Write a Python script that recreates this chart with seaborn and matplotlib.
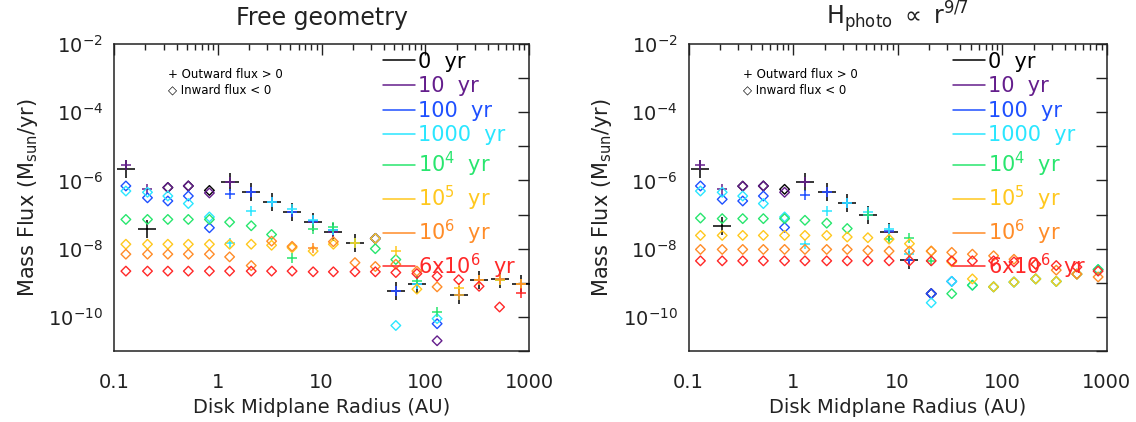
import numpy as np
import pandas as pd
import matplotlib
matplotlib.use("Agg")
import matplotlib.pyplot as plt
from matplotlib.lines import Line2D
from matplotlib.ticker import FixedLocator, FuncFormatter, LogLocator, NullFormatter
import seaborn as sns

nan = np.nan

# --------------------------------
# DATA (signed flux, >0 outward, <0 inward)
# --------------------------------

radius = [0.13, 0.21, 0.33, 0.52, 0.83, 1.3, 2.1, 3.3, 5.2, 8.3,
          13, 21, 33, 52, 83, 130, 210, 330, 520, 830]

ages = ["0  yr", "10  yr", "100  yr", "1000  yr",
        "10$^4$  yr", "10$^5$  yr", "10$^6$  yr", "6x10$^6$  yr"]

colors = ["#000000", "#641e8c", "#1e50ff", "#2ae6ff",
          "#28e66e", "#ffc81e", "#ff8c28", "#ff2828"]

free_0 = [2.2e-6, 3.7e-8, -6.2e-7, -6.9e-7, -5.1e-7, 9.1e-7, 4.6e-7, 2.3e-7, 1.2e-7, 5.9e-8,
          3.0e-8, 1.5e-8, -2.0e-8, 5.8e-10, 9.5e-10, nan, 4.3e-10, 1.2e-9, 1.25e-9, 9.5e-10]
free_10 = [2.75e-6, 5.8e-7, -6.2e-7, -6.9e-7, -4.3e-7, 9.1e-7, 4.6e-7, 2.3e-7, 1.2e-7, 5.9e-8,
           3.0e-8, 1.5e-8, -2.0e-8, 5.8e-10, 9.5e-10, -2.0e-11, 4.3e-10, 1.2e-9, 1.25e-9, 9.5e-10]
free_100 = [-6.9e-7, -3.1e-7, -2.5e-7, -3.5e-7, -4.1e-8, 4.0e-7, 4.6e-7, 2.3e-7, 1.2e-7, 6.5e-8,
            3.5e-8, 1.5e-8, -2.0e-8, 5.8e-10, 9.5e-10, -6.3e-11, 4.3e-10, 1.2e-9, 1.25e-9, 9.5e-10]
free_1000 = [-4.9e-7, -4.5e-7, -3.5e-7, -2.1e-7, -8.5e-8, 1.5e-8, 1.3e-7, 2.3e-7, 1.5e-7, 6.8e-8,
             3.5e-8, 1.5e-8, nan, -5.6e-11, 9.5e-10, -8.9e-11, 4.5e-10, 1.2e-9, 1.25e-9, 9.5e-10]
free_1e4 = [-7.2e-8, -7.2e-8, -7.2e-8, -7.2e-8, -7.2e-8, -6.0e-8, -4.7e-8, -2.6e-8, 5.3e-9, 3.7e-8,
            4.4e-8, 1.5e-8, -1.0e-8, -4.8e-9, 1.1e-9, 1.4e-10, 4.5e-10, 1.2e-9, 1.2e-9, 9.5e-10]
free_1e5 = [-1.35e-8, -1.35e-8, -1.35e-8, -1.35e-8, -1.35e-8, -1.35e-8, -1.35e-8, -1.26e-8, -1.07e-8, -8.5e-9,
            -1.35e-8, 1.5e-8, -2.0e-8, 8.5e-9, -6.5e-10, nan, 7.2e-10, 1.2e-9, 1.2e-9, 9.5e-10]
free_1e6 = [-6.9e-9, -6.9e-9, -6.9e-9, -6.9e-9, -6.9e-9, -5.75e-9, -3.2e-9, -1.66e-8, -1.17e-8, 1.05e-8,
            -1.6e-8, -3.9e-9, -3.0e-9, -3.5e-9, -2.2e-9, -7.6e-10, 4.3e-10, 1.2e-9, 1.25e-9, 9.5e-10]
free_6e6 = [-2.2e-9, -2.2e-9, -2.2e-9, -2.2e-9, -2.2e-9, -2.2e-9, -2.2e-9, -2.2e-9, -2.2e-9, -2.1e-9,
            -2.1e-9, -2.1e-9, -2.1e-9, -2.0e-9, -1.86e-9, -1.55e-9, -1.23e-9, -7.9e-10, -1.95e-10, 5.0e-10]

photo_0 = [2.2e-6, 4.6e-8, -6.8e-7, -6.9e-7, -5.5e-7, 9.1e-7, 4.6e-7, 2.2e-7, 9.5e-8, 3.0e-8,
           4.6e-9, -4.8e-10, nan, nan, nan, nan, nan, nan, nan, nan]
photo_10 = [2.8e-6, 5.5e-7, -6.8e-7, -6.9e-7, -4.5e-7, 9.1e-7, 4.6e-7, 2.2e-7, 9.5e-8, 3.0e-8,
            4.6e-9, -4.8e-10, nan, nan, nan, nan, nan, nan, nan, nan]
photo_100 = [-6.9e-7, -2.8e-7, -2.5e-7, -3.5e-7, -4.2e-8, 3.7e-7, 4.6e-7, 2.2e-7, 1.0e-7, 3.2e-8,
             4.6e-9, -4.8e-10, -1.1e-9, nan, nan, nan, nan, nan, nan, nan]
photo_1000 = [-4.9e-7, -4.5e-7, -3.5e-7, -2.1e-7, -8.5e-8, 1.35e-8, 1.3e-7, 2.2e-7, 1.2e-7, 3.7e-8,
              6.8e-9, -2.6e-10, -1.1e-9, -8.5e-10, -7.6e-10, -1.05e-9, -1.3e-9, -1.1e-9, -1.8e-9, -2.45e-9]
photo_1e4 = [-7.9e-8, -7.6e-8, -7.6e-8, -7.6e-8, -7.6e-8, -6.8e-8, -5.6e-8, -3.9e-8, 1.0e-7, 1.9e-8,
             2.0e-8, 4.4e-9, -4.8e-10, -8.5e-10, -7.6e-10, -1.05e-9, -1.3e-9, -1.1e-9, -1.8e-9, -2.45e-9]
photo_1e5 = [-2.45e-8, -2.45e-8, -2.45e-8, -2.45e-8, -2.45e-8, -2.45e-8, -2.45e-8, -2.2e-8, -2.1e-8, -1.9e-8,
             -1.4e-8, -8.5e-9, -4.1e-9, -1.3e-9, -7.6e-10, -1.05e-9, -1.3e-9, -1.1e-9, -1.8e-9, nan]
photo_1e6 = [-9.5e-9, -9.5e-9, -9.5e-9, -9.5e-9, -9.5e-9, -9.5e-9, -9.5e-9, -9.5e-9, -8.9e-9, -8.5e-9,
             -8.5e-9, -8.5e-9, -7.8e-9, -6.9e-9, -6.2e-9, -4.9e-9, -3.5e-9, -2.35e-9, -1.8e-9, -1.48e-9]
photo_6e6 = [-4.4e-9, -4.4e-9, -4.4e-9, -4.4e-9, -4.4e-9, -4.4e-9, -4.4e-9, -4.4e-9, -4.4e-9, -4.4e-9,
             -4.4e-9, -4.4e-9, -4.4e-9, -4.4e-9, -4.4e-9, -4.1e-9, -3.5e-9, -3.2e-9, -2.9e-9, -2.2e-9]

panels = {
    "free": [free_0, free_10, free_100, free_1000, free_1e4, free_1e5, free_1e6, free_6e6],
    "photo": [photo_0, photo_10, photo_100, photo_1000, photo_1e4, photo_1e5, photo_1e6, photo_6e6],
}

titles = {
    "free": "Free geometry",
    "photo": r"H$_{\rm photo}$ $\propto$ r$^{9/7}$",
}

# --------------------------------
# LONG TABLE
# --------------------------------

rows = []
for panel, series in panels.items():
    for age, values in zip(ages, series):
        for r, f in zip(radius, values):
            if np.isnan(f):
                continue
            rows.append({
                "panel": panel,
                "age": age,
                "radius": r,
                "flux": abs(f),
                "direction": "out" if f > 0 else "in",
            })
df = pd.DataFrame(rows)

# --------------------------------
# PLOT
# --------------------------------

sns.set_style("white")
plt.rcParams["font.family"] = ["DejaVu Sans"]

fig = plt.figure(figsize=(11.36, 4.22), dpi=100)
ax_left = fig.add_axes([0.1004, 0.1682, 0.3653, 0.7275])
ax_right = fig.add_axes([0.6061, 0.1682, 0.3680, 0.7275])

legend_x = {"free": 0.648, "photo": 0.632}

for ax, panel in [(ax_left, "free"), (ax_right, "photo")]:
    sub = df[df["panel"] == panel]

    for age, color in zip(ages, colors):
        d = sub[sub["age"] == age]
        out = d[d["direction"] == "out"]
        inw = d[d["direction"] == "in"]
        plus_size = 170 if age == ages[0] else 60
        sns.scatterplot(
            data=out, x="radius", y="flux", ax=ax,
            marker="+", color=color, s=plus_size, linewidth=1.1,
            legend=False, zorder=3
        )
        sns.scatterplot(
            data=inw, x="radius", y="flux", ax=ax,
            marker="D", facecolor="none", edgecolor=color, s=24,
            linewidth=1.0, legend=False, zorder=3
        )

    ax.set_xscale("log")
    ax.set_yscale("log")
    ax.set_xlim(0.1, 1000)
    ax.set_ylim(1e-11, 1e-2)

    ax.yaxis.set_major_locator(FixedLocator([10.0 ** e for e in range(-11, -1)]))
    ax.yaxis.set_major_formatter(FuncFormatter(
        lambda v, p: "" if round(np.log10(v)) % 2 else r"$10^{%d}$" % round(np.log10(v))
    ))
    ax.yaxis.set_minor_formatter(NullFormatter())
    ax.yaxis.set_minor_locator(FixedLocator([]))

    ax.xaxis.set_major_locator(FixedLocator([0.1, 1, 10, 100, 1000]))
    ax.xaxis.set_major_formatter(FuncFormatter(lambda v, p: "%g" % v))
    ax.xaxis.set_minor_locator(LogLocator(base=10, subs=np.arange(2, 10)))
    ax.xaxis.set_minor_formatter(NullFormatter())

    ax.tick_params(which="both", direction="in", top=True, right=True,
                   labelsize=14, colors="#222222")
    ax.tick_params(axis="x", which="both", pad=16)
    ax.tick_params(axis="y", which="both", pad=8)
    ax.tick_params(which="major", length=8, width=1)
    ax.tick_params(which="minor", length=4, width=1)

    for spine in ax.spines.values():
        spine.set_color("#222222")
        spine.set_linewidth(1.1)

    ax.set_xlabel("Disk Midplane Radius (AU)", fontsize=14, color="#222222", labelpad=4)
    ax.set_ylabel(r"Mass Flux (M$_{\rm sun}$/yr)", fontsize=15, color="#222222", labelpad=6)
    ax.set_title(titles[panel], fontsize=17, color="#222222", pad=14)

    handles = [Line2D([0], [0], color=c, lw=1.1) for c in colors]
    leg = ax.legend(
        handles, ages, loc="upper left", bbox_to_anchor=(legend_x[panel], 0.975),
        frameon=False, fontsize=15, handlelength=1.55, handletextpad=0.15,
        labelspacing=0.22, borderpad=0, borderaxespad=0, labelcolor=colors
    )

    ax.text(0.13, 0.89, "+ Outward flux > 0", transform=ax.transAxes,
            fontsize=8.5, color="black")
    ax.text(0.13, 0.84, "\u25c7 Inward flux < 0", transform=ax.transAxes,
            fontsize=8.5, color="black")

plt.savefig("out.png", dpi=100)
